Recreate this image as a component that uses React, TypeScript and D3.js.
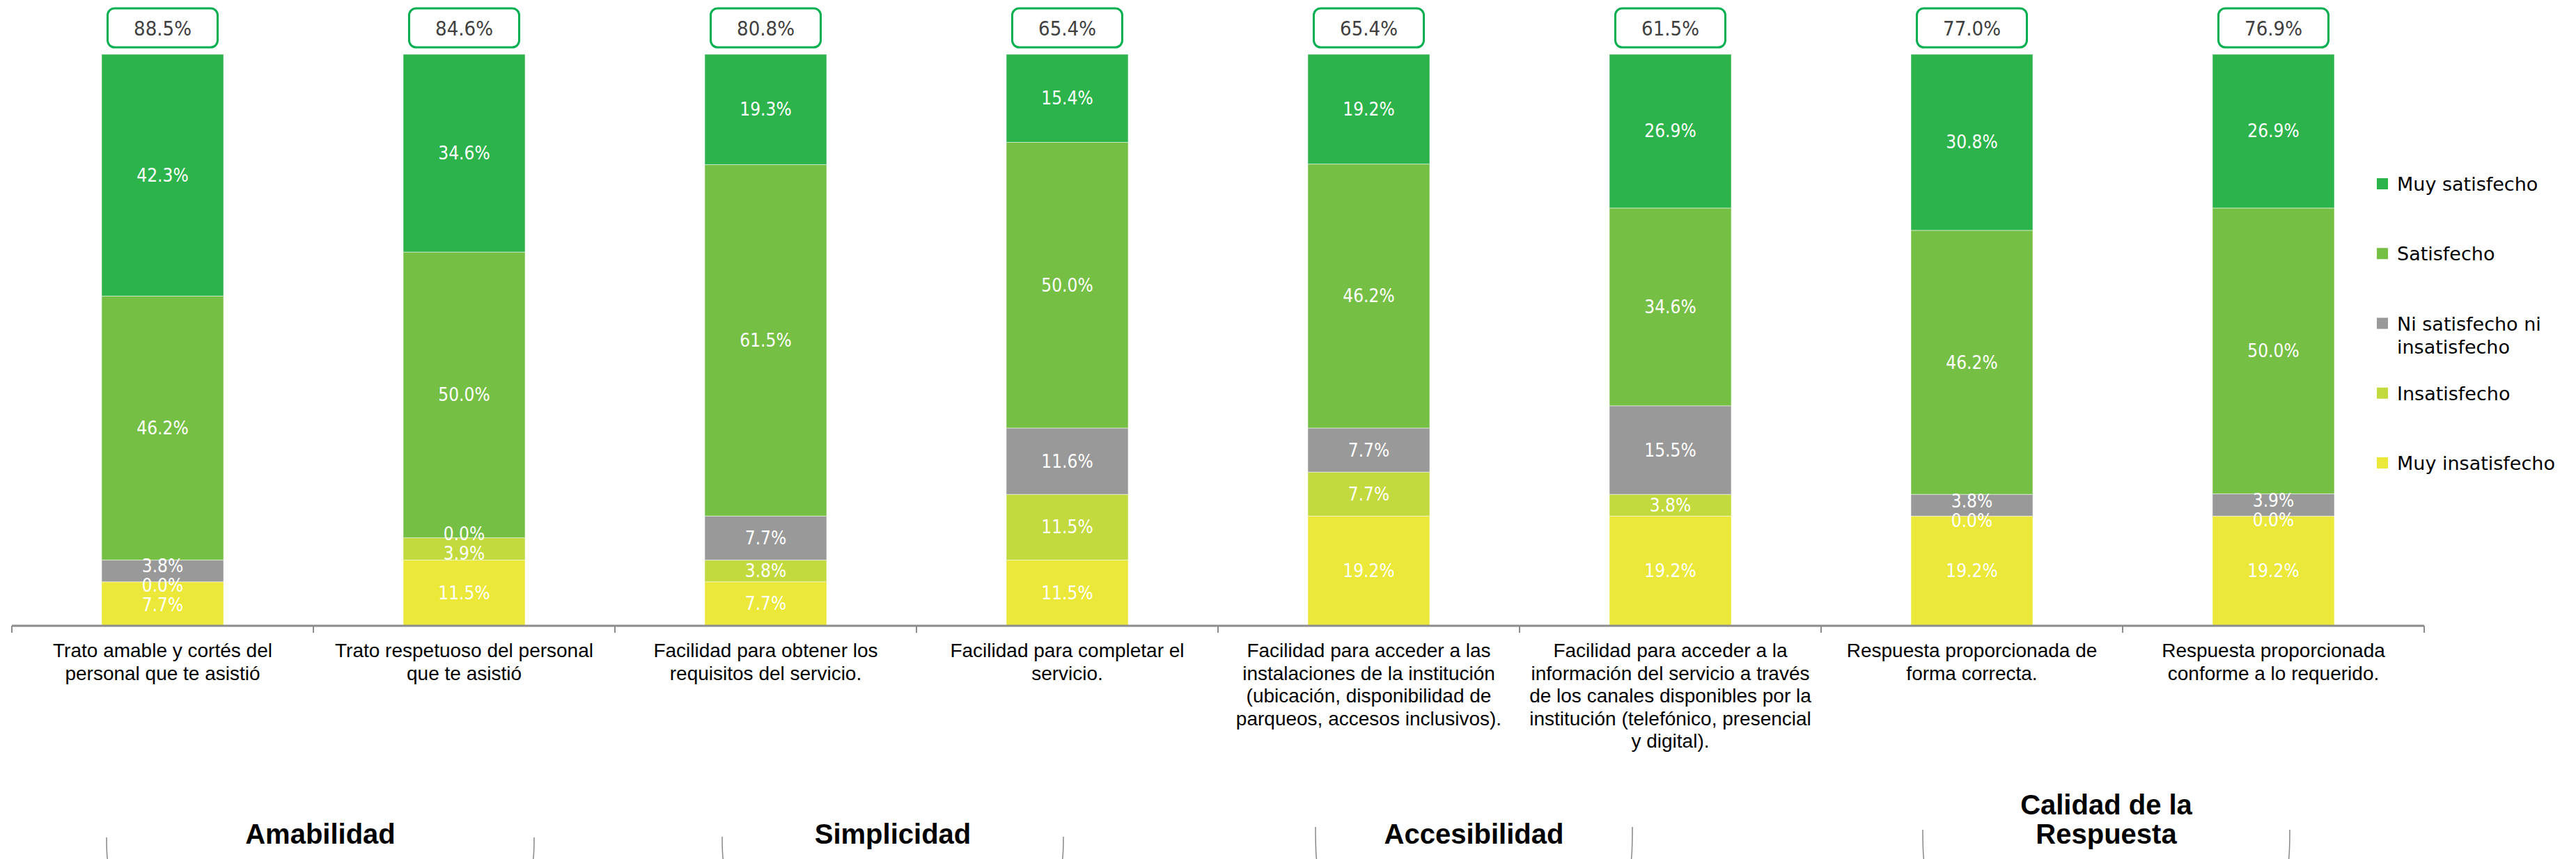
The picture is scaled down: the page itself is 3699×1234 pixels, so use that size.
import React from "react";
import * as d3 from "d3";

const categories: string[] = [
  "Trato amable y cortés del\npersonal que te asistió",
  "Trato respetuoso del personal\nque te asistió",
  "Facilidad para obtener los\nrequisitos del servicio.",
  "Facilidad para completar el\nservicio.",
  "Facilidad para acceder a las\ninstalaciones de la institución\n(ubicación, disponibilidad de\nparqueos, accesos inclusivos).",
  "Facilidad para acceder a la\ninformación del servicio a través\nde los canales disponibles por la\ninstitución (telefónico, presencial\ny digital).",
  "Respuesta proporcionada de\nforma correcta.",
  "Respuesta proporcionada\nconforme a lo requerido.",
];

const seriesNames: string[] = [
  "Muy insatisfecho",
  "Insatisfecho",
  "Ni satisfecho ni\ninsatisfecho",
  "Satisfecho",
  "Muy satisfecho",
];

const seriesColors: string[] = ["#ECE83A", "#C2DA3E", "#999999", "#76BF45", "#2DB34B"];

const muyInsatisfecho: number[] = [7.7, 11.5, 7.7, 11.5, 19.2, 19.2, 19.2, 19.2];
const insatisfecho: number[] = [0.0, 3.9, 3.8, 11.5, 7.7, 3.8, 0.0, 0.0];
const niNi: number[] = [3.8, 0.0, 7.7, 11.6, 7.7, 15.5, 3.8, 3.9];
const satisfecho: number[] = [46.2, 50.0, 61.5, 50.0, 46.2, 34.6, 46.2, 50.0];
const muySatisfecho: number[] = [42.3, 34.6, 19.3, 15.4, 19.2, 26.9, 30.8, 26.9];

const groupNames: string[] = ["Amabilidad", "Simplicidad", "Accesibilidad", "Calidad de la\nRespuesta"];
const groupFirstCategory: number[] = [0, 2, 4, 6];

// layout
const W = 3699;
const H = 1234;
const AX_LEFT = 17;
const AX_RIGHT = 3481;
const Y_TOP = 78;
const Y_BASE = 899;
const BAR_W = 175;
// bracket decoration: offsets relative to group start (band start) and widths
const BRACKETS = [
  { left: 136, right: 750, top: 1203 },
  { left: 154, right: 644, top: 1202 },
  { left: 140, right: 595, top: 1188 },
  { left: 146, right: 673, top: 1192 },
];

const VALUE_FONT = "'Liberation Sans Narrow', 'Arial Narrow', 'DejaVu Sans Condensed', sans-serif";
const TEXT_FONT = "'Liberation Sans', Arial, sans-serif";
const LEGEND_FONT = "'DejaVu Sans', Verdana, sans-serif";

export default function App() {
  const seriesValues = [muyInsatisfecho, insatisfecho, niNi, satisfecho, muySatisfecho];
  const x = d3.scaleBand<number>().domain(d3.range(categories.length)).range([AX_LEFT, AX_RIGHT]).padding(0);
  const y = d3.scaleLinear().domain([0, 100]).range([Y_BASE, Y_TOP]);
  const fmt = (v: number) => d3.format(".1f")(v) + "%";

  const rows = categories.map((_, i) => {
    const obj: Record<string, number> = {};
    seriesValues.forEach((s, k) => (obj["s" + k] = s[i]));
    return obj;
  });
  const stack = d3.stack<Record<string, number>>().keys(seriesValues.map((_, k) => "s" + k));
  const stacked = stack(rows);

  const legendY = d3.scalePoint<number>().domain(d3.range(seriesNames.length).reverse()).range([264, 665]);

  return (
    <svg width={W} height={H} style={{ position: "absolute", left: 0, top: 0, background: "#fff" }}>
      <rect x={0} y={0} width={W} height={H} fill="#fff" />
      {/* bars */}
      {categories.map((_, i) => {
        const cx = (x(i) as number) + x.bandwidth() / 2;
        const segs = stacked.map((layer, k) => ({ k, y0: layer[i][0], y1: layer[i][1] }));
        // label positions with simple collision relaxation
        const pos = segs.map((s) => y((s.y0 + s.y1) / 2));
        const gap = 28;
        for (let it = 0; it < 20; it++) {
          for (let k = 0; k < pos.length - 1; k++) {
            const d = pos[k] - pos[k + 1];
            if (d < gap) {
              const o = (gap - d) / 2;
              pos[k] += o;
              pos[k + 1] -= o;
            }
          }
        }
        const total = satisfecho[i] + muySatisfecho[i];
        return (
          <g key={i}>
            {segs.map((s) => (
              <rect
                key={s.k}
                x={cx - BAR_W / 2}
                width={BAR_W}
                y={y(s.y1)}
                height={Math.max(0, y(s.y0) - y(s.y1))}
                fill={seriesColors[s.k]}
                stroke="#ffffff"
                strokeOpacity={0.5}
                strokeWidth={1}
              />
            ))}
            {segs.map((s, k) => (
              <text
                key={"t" + k}
                x={cx}
                y={pos[k]}
                textAnchor="middle"
                dominantBaseline="central"
                fill="#ffffff"
                fontFamily={VALUE_FONT}
                fontSize={26}
              >
                {fmt(seriesValues[s.k][i])}
              </text>
            ))}
            <rect x={cx - 79} y={12} width={158} height={56} rx={10} ry={10} fill="#fff" stroke="#00B050" strokeWidth={3} />
            <text x={cx} y={41} textAnchor="middle" dominantBaseline="central" fill="#404040" fontFamily={VALUE_FONT} fontSize={29}>
              {fmt(total)}
            </text>
          </g>
        );
      })}
      {/* axis */}
      <line x1={AX_LEFT} x2={AX_RIGHT} y1={Y_BASE} y2={Y_BASE} stroke="#8c8c8c" strokeWidth={3} />
      {d3.range(categories.length + 1).map((i) => {
        const tx = i < categories.length ? (x(i) as number) : AX_RIGHT;
        return <line key={i} x1={tx} x2={tx} y1={Y_BASE} y2={Y_BASE + 10} stroke="#8c8c8c" strokeWidth={2} />;
      })}
      {/* category labels */}
      {categories.map((c, i) => {
        const cx = (x(i) as number) + x.bandwidth() / 2;
        return (
          <text key={i} x={cx} y={944} textAnchor="middle" fontFamily={TEXT_FONT} fontSize={28} fill="#000">
            {c.split("\n").map((ln, j) => (
              <tspan key={j} x={cx} dy={j === 0 ? 0 : 32.5}>
                {ln}
              </tspan>
            ))}
          </text>
        );
      })}
      {/* group labels + brackets */}
      {groupNames.map((g, gi) => {
        const start = x(groupFirstCategory[gi]) as number;
        const b = BRACKETS[gi];
        const l = start + b.left;
        const r = start + b.right;
        const cx = (l + r) / 2;
        const lines = g.split("\n");
        const baseY = 1212 - (lines.length - 1) * 42;
        return (
          <g key={gi}>
            <path d={`M${l},${b.top} Q${l},${H} ${l + 3},${H + 10}`} fill="none" stroke="#888" strokeWidth={1.5} />
            <path d={`M${r},${b.top} Q${r},${H} ${r - 3},${H + 10}`} fill="none" stroke="#888" strokeWidth={1.5} />
            <text x={cx} y={baseY} textAnchor="middle" fontFamily={TEXT_FONT} fontWeight="bold" fontSize={40} fill="#000">
              {lines.map((ln, j) => (
                <tspan key={j} x={cx} dy={j === 0 ? 0 : 42}>
                  {ln}
                </tspan>
              ))}
            </text>
          </g>
        );
      })}
      {/* legend */}
      {seriesNames.map((s, k) => {
        const ly = legendY(k) as number;
        return (
          <g key={k}>
            <rect x={3413} y={ly - 8} width={16} height={16} fill={seriesColors[k]} />
            <text x={3442} y={ly} dominantBaseline="central" fontFamily={LEGEND_FONT} fontSize={27} fill="#000">
              {s.split("\n").map((ln, j) => (
                <tspan key={j} x={3442} dy={j === 0 ? 0 : 33}>
                  {ln}
                </tspan>
              ))}
            </text>
          </g>
        );
      })}
    </svg>
  );
}
